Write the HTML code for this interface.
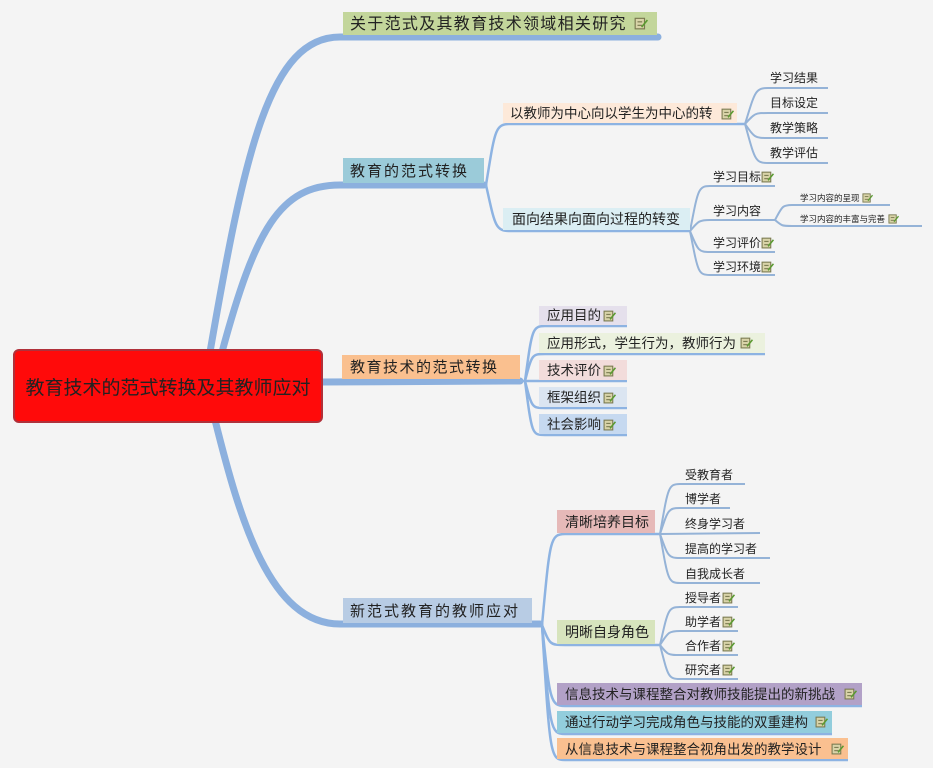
<!DOCTYPE html>
<html><head><meta charset="utf-8"><style>
html,body{margin:0;padding:0;background:#f4f4f4;}
svg{display:block;}
text{font-family:"Liberation Sans","Noto Sans CJK SC","WenQuanYi Zen Hei",sans-serif;fill:#222;}
</style></head><body>
<svg width="933" height="768" viewBox="0 0 933 768" xmlns="http://www.w3.org/2000/svg">
<defs>
<symbol id="ic" viewBox="0 0 12 12">
<rect x="1" y="2" width="8" height="9" fill="#d8d3a8" stroke="#7a7a50" stroke-width="1"/>
<line x1="3" y1="5" x2="7" y2="5" stroke="#7a7a50"/>
<line x1="3" y1="8" x2="7" y2="8" stroke="#7a7a50"/>
<path d="M6 9 L11 3 L12 4 L7 10 Z" fill="#5a9a30"/>
</symbol>
</defs>
<rect width="933" height="768" fill="#f4f4f4"/>

<!-- root connectors -->
<g fill="none" stroke="#8cb0de" stroke-linecap="round">
<path d="M210 352 C245 150 270 37 340 37 L658 37" stroke-width="7"/>
<path d="M222 352 C255 230 280 185 340 185 L484 185" stroke-width="7"/>
<path d="M320 382 L520 381" stroke-width="7"/>
<path d="M215 420 C240 520 270 624 340 624 L540 624" stroke-width="7"/>
</g>
<!-- level2 connectors -->
<g fill="none" stroke="#8db3e2" stroke-width="2.5">
<path d="M486 185 C495 130 495 124 510 124 L745 124"/>
<path d="M486 185 C495 225 495 231 510 231 L690 231"/>
<path d="M525 381 C532 330 532 326 545 326 L627 326"/>
<path d="M525 381 C532 354 532 354 545 354 L765 354"/>
<path d="M520 381 L627 381"/>
<path d="M525 381 C532 408 532 408 545 408 L627 408"/>
<path d="M525 381 C532 435 532 435 545 435 L627 435"/>
<path d="M542 625 C550 540 550 534 565 534 L660 534"/>
<path d="M542 625 C550 645 550 645 565 645 L660 645"/>
<path d="M542 625 C550 700 550 706 565 706 L862 706"/>
<path d="M542 625 C550 728 550 734 565 734 L832 734"/>
<path d="M542 625 C550 755 550 760 565 760 L848 760"/>
</g>
<!-- leaf connectors -->
<g fill="none" stroke="#95b3d7" stroke-width="2">
<path d="M745 124 C755 92 755 88 768 88 L828 88"/>
<path d="M745 124 C755 113 755 113 768 113 L828 113"/>
<path d="M745 124 C755 138 755 138 768 138 L828 138"/>
<path d="M745 124 C755 160 755 163 768 163 L828 163"/>
<path d="M690 231 C698 190 698 186 710 186 L775 186"/>
<path d="M690 231 C698 222 698 220 710 220 L775 220"/>
<path d="M690 231 C698 250 698 252 710 252 L775 252"/>
<path d="M690 231 C698 272 698 275 710 275 L775 275"/>
<path d="M775 220 C782 207 782 205 792 205 L890 205"/>
<path d="M775 220 C782 226 782 226 792 226 L922 226"/>
<path d="M660 534 C668 488 668 484 680 484 L745 484"/>
<path d="M660 534 C668 510 668 508 680 508 L730 508"/>
<path d="M660 534 L760 533"/>
<path d="M660 534 C668 556 668 558 680 558 L770 558"/>
<path d="M660 534 C668 580 668 583 680 583 L760 583"/>
<path d="M660 645 C668 610 668 607 680 607 L738 607"/>
<path d="M660 645 C668 633 668 631 680 631 L738 631"/>
<path d="M660 645 C668 655 668 655 680 655 L738 655"/>
<path d="M660 645 C668 676 668 679 680 679 L738 679"/>
</g>

<!-- root -->
<rect x="14" y="350" width="308" height="72" rx="5" fill="#ff0a0a" stroke="#b0303a" stroke-width="2"/>
<text x="168" y="394" font-size="19" text-anchor="middle" fill="#2a0000">教育技术的范式转换及其教师应对</text>

<!-- main nodes -->
<rect x="343" y="12" width="314" height="23" fill="#c3d69b"/>
<text x="350" y="29" font-size="16" letter-spacing="1.3">关于范式及其教育技术领域相关研究</text>
<use href="#ic" x="634" y="16" width="14" height="14"/>

<rect x="343" y="158" width="141" height="25" fill="#9bcbd9"/>
<text x="350" y="176" font-size="15" letter-spacing="2">教育的范式转换</text>

<rect x="342" y="355" width="178" height="24" fill="#fac08f"/>
<text x="350" y="372" font-size="15" letter-spacing="1.5">教育技术的范式转换</text>

<rect x="343" y="598" width="189" height="25" fill="#b8cce4"/>
<text x="350" y="616" font-size="15" letter-spacing="2">新范式教育的教师应对</text>

<!-- level 2 -->
<rect x="503" y="103" width="234" height="20" fill="#fde9d9"/>
<text x="510" y="118" font-size="13.5">以教师为中心向以学生为中心的转</text>
<use href="#ic" x="721" y="107" width="13" height="13"/>
<rect x="503" y="208" width="187" height="22" fill="#dbeef3"/>
<text x="512" y="224" font-size="14">面向结果向面向过程的转变</text>

<rect x="539" y="306" width="88" height="19" fill="#e5e0ec"/><text x="547" y="320" font-size="13.5">应用目的</text><use href="#ic" x="603" y="309" width="13" height="13"/>
<rect x="539" y="333" width="226" height="20" fill="#ebf1de"/><text x="547" y="348" font-size="13.5">应用形式，学生行为，教师行为</text><use href="#ic" x="740" y="336" width="13" height="13"/>
<rect x="539" y="360" width="88" height="20" fill="#f2dcdb"/><text x="547" y="375" font-size="13.5">技术评价</text><use href="#ic" x="603" y="364" width="13" height="13"/>
<rect x="539" y="387" width="88" height="20" fill="#dbe5f1"/><text x="547" y="402" font-size="13.5">框架组织</text><use href="#ic" x="603" y="391" width="13" height="13"/>
<rect x="539" y="414" width="88" height="20" fill="#c6d9f0"/><text x="547" y="429" font-size="13.5">社会影响</text><use href="#ic" x="603" y="418" width="13" height="13"/>

<rect x="557" y="510" width="98" height="23" fill="#e6b9b8"/><text x="565" y="527" font-size="14">清晰培养目标</text>
<rect x="557" y="620" width="98" height="24" fill="#d7e4bd"/><text x="565" y="637" font-size="14">明晰自身角色</text>
<rect x="557" y="683" width="305" height="22" fill="#b2a1c7"/><text x="565" y="699" font-size="13.5">信息技术与课程整合对教师技能提出的新挑战</text><use href="#ic" x="844" y="687" width="13" height="13"/>
<rect x="557" y="711" width="275" height="22" fill="#92cddc"/><text x="565" y="727" font-size="13.5">通过行动学习完成角色与技能的双重建构</text><use href="#ic" x="815" y="715" width="13" height="13"/>
<rect x="557" y="738" width="291" height="21" fill="#fac090"/><text x="565" y="754" font-size="13.5">从信息技术与课程整合视角出发的教学设计</text><use href="#ic" x="831" y="742" width="13" height="13"/>

<!-- leaves -->
<g font-size="12">
<text x="770" y="82">学习结果</text>
<text x="770" y="107">目标设定</text>
<text x="770" y="132">教学策略</text>
<text x="770" y="157">教学评估</text>
<text x="713" y="181">学习目标</text><use href="#ic" x="761" y="170" width="13" height="13"/>
<text x="713" y="215">学习内容</text>
<text x="713" y="247">学习评价</text><use href="#ic" x="761" y="236" width="13" height="13"/>
<text x="713" y="271">学习环境</text><use href="#ic" x="761" y="260" width="13" height="13"/>
<text x="685" y="479">受教育者</text>
<text x="685" y="503">博学者</text>
<text x="685" y="528">终身学习者</text>
<text x="685" y="553">提高的学习者</text>
<text x="685" y="578">自我成长者</text>
<text x="685" y="602">授导者</text><use href="#ic" x="722" y="591" width="13" height="13"/>
<text x="685" y="626">助学者</text><use href="#ic" x="722" y="615" width="13" height="13"/>
<text x="685" y="650">合作者</text><use href="#ic" x="722" y="639" width="13" height="13"/>
<text x="685" y="674">研究者</text><use href="#ic" x="722" y="663" width="13" height="13"/>
</g>
<g font-size="8.5">
<text x="800" y="201">学习内容的呈现</text><use href="#ic" x="862" y="192" width="11" height="11"/>
<text x="800" y="222">学习内容的丰富与完善</text><use href="#ic" x="888" y="213" width="11" height="11"/>
</g>
</svg>
</body></html>
